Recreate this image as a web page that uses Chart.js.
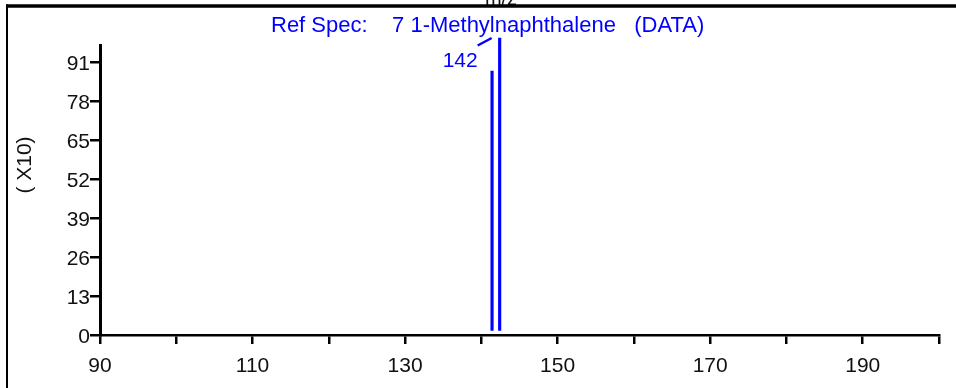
<!DOCTYPE html>
<html>
<head>
<meta charset="utf-8">
<script src="https://cdn.jsdelivr.net/npm/chart.js@4/dist/chart.umd.min.js"></script>
<style>
  html, body { margin: 0; padding: 0; background: #ffffff; }
  #wrap { position: relative; width: 956px; height: 388px; }
  canvas { display: block; }
</style>
</head>
<body>
<div id="wrap"><canvas id="c" width="956" height="388"></canvas></div>
<script>
// ---- data ----
const mzValues = [141.4, 142.4];
const intensities = [88, 99];
const peakLabels = ['', '142'];
const xTickValues = [90, 100, 110, 120, 130, 140, 150, 160, 170, 180, 190, 200];
const xTickLabels = [90, 110, 130, 150, 170, 190];
const yTickValues = [0, 13, 26, 39, 52, 65, 78, 91];
const titleText = 'Ref Spec:    7 1-Methylnaphthalene   (DATA)';
const yAxisTitle = '( X10)';
const xAxisTitle = 'm/z';

const BLUE = '#0000ff';
const INK = '#111111';
const FONT = '"Liberation Sans", Arial, sans-serif';

const decorations = {
  id: 'decorations',
  afterDraw(chart) {
    const ctx = chart.ctx;
    const xs = chart.scales.x, ys = chart.scales.y;
    ctx.save();
    // x axis title (cut at top edge)
    ctx.fillStyle = INK;
    ctx.font = '20px ' + FONT;
    ctx.textAlign = 'center';
    ctx.textBaseline = 'alphabetic';
    ctx.fillText(xAxisTitle, 501, 4.5);
    // frame
    ctx.strokeStyle = '#000';
    ctx.lineWidth = 3.5;
    ctx.beginPath(); ctx.moveTo(6, 6); ctx.lineTo(956, 6); ctx.stroke();
    ctx.lineWidth = 2;
    ctx.beginPath(); ctx.moveTo(7, 4.5); ctx.lineTo(7, 388); ctx.stroke();
    // title
    ctx.fillStyle = BLUE;
    ctx.font = '22px ' + FONT;
    ctx.textAlign = 'left';
    ctx.fillText(titleText, 271, 32);
    // y axis title
    ctx.fillStyle = INK;
    ctx.font = '21px ' + FONT;
    ctx.translate(25, 165);
    ctx.rotate(-Math.PI / 2);
    ctx.textAlign = 'center';
    ctx.textBaseline = 'middle';
    ctx.fillText(yAxisTitle, 0, 0);
    ctx.setTransform(1, 0, 0, 1, 0, 0);
    // peak labels with leader lines
    peakLabels.forEach((lab, i) => {
      if (!lab) return;
      const px = xs.getPixelForValue(mzValues[i]);
      const py = ys.getPixelForValue(intensities[i]);
      ctx.strokeStyle = BLUE;
      ctx.lineWidth = 2.5;
      ctx.beginPath();
      ctx.moveTo(px - 22, py + 7.5);
      ctx.lineTo(px - 8, py);
      ctx.stroke();
      ctx.fillStyle = BLUE;
      ctx.font = '21px ' + FONT;
      ctx.textAlign = 'right';
      ctx.textBaseline = 'alphabetic';
      ctx.fillText(lab, px - 22, py + 29);
    });
    ctx.restore();
  }
};

new Chart(document.getElementById('c'), {
  type: 'bar',
  data: {
    datasets: [{
      data: mzValues.map((x, i) => ({ x: x, y: intensities[i] })),
      backgroundColor: BLUE,
      borderWidth: 0,
      barThickness: 2.5,
      base: 1.5,
      clip: false
    }]
  },
  options: {
    responsive: false,
    animation: false,
    devicePixelRatio: 1,
    layout: { padding: { left: 0, top: 45, right: 17, bottom: 0 } },
    plugins: { legend: { display: false }, title: { display: false }, tooltip: { enabled: false } },
    scales: {
      x: {
        type: 'linear',
        offset: false,
        min: 90, max: 200,
        afterBuildTicks(scale) { scale.ticks = xTickValues.map(v => ({ value: v })); },
        afterFit(scale) { scale.height = 53; },
        ticks: {
          autoSkip: false,
          maxRotation: 0,
          padding: 10,
          color: INK,
          font: { family: FONT, size: 21 },
          callback: (v) => xTickLabels.includes(v) ? String(v) : ''
        },
        grid: { offset: false, drawOnChartArea: false, drawTicks: true, tickLength: 9, color: '#000', lineWidth: 2.5 },
        border: { color: '#000', width: 2.5 }
      },
      y: {
        min: 0, max: 96.67,
        afterBuildTicks(scale) { scale.ticks = yTickValues.map(v => ({ value: v })); },
        afterFit(scale) { scale.width = 100; },
        ticks: {
          autoSkip: false,
          padding: 0,
          labelOffset: 2,
          color: INK,
          font: { family: FONT, size: 21 },
          callback: (v) => String(v)
        },
        grid: { drawOnChartArea: false, drawTicks: true, tickLength: 10, color: '#000', lineWidth: 2.5 },
        border: { color: '#000', width: 3 }
      }
    }
  },
  plugins: [decorations]
});
</script>
</body>
</html>
